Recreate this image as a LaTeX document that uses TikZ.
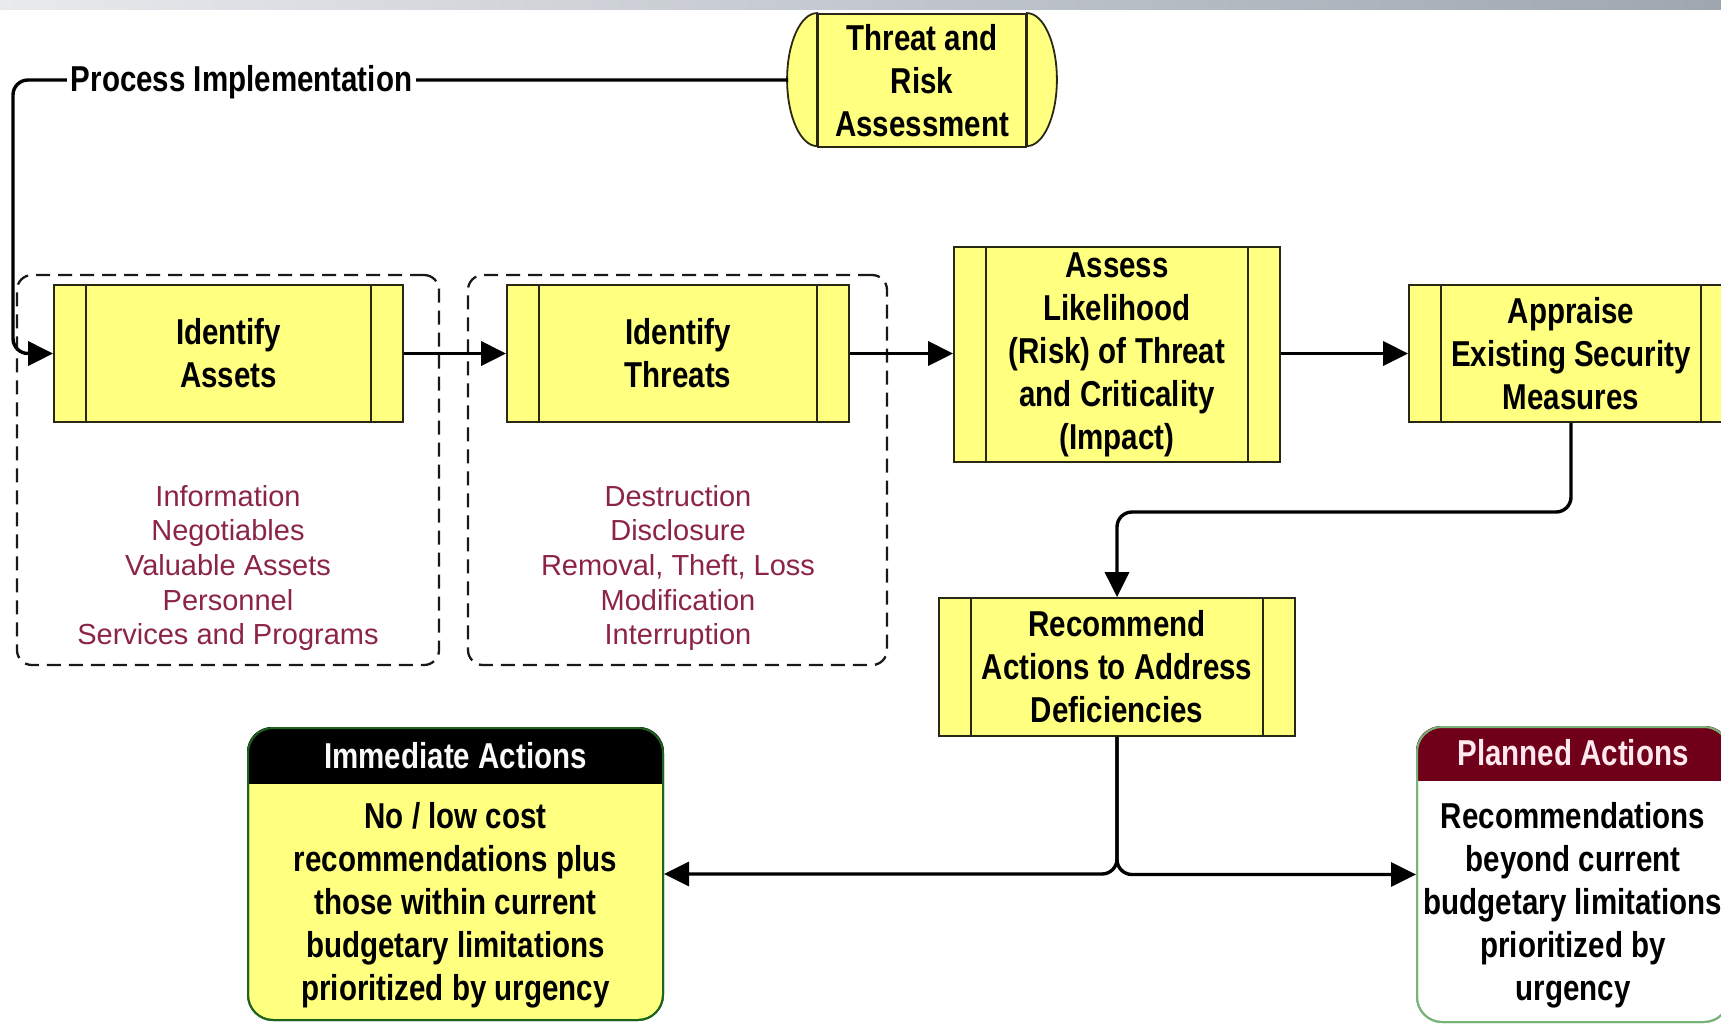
\documentclass[tikz,border=0pt]{standalone}
\usepackage{fontspec}
\setmainfont{Liberation Sans}
\newfontfamily\nbfont[FakeStretch=0.82]{Liberation Sans}
\usetikzlibrary{arrows.meta}
\definecolor{yel}{RGB}{255,255,128}
\definecolor{redtxt}{RGB}{140,36,72}
\definecolor{plred}{RGB}{112,0,26}
\definecolor{plgreen}{RGB}{120,180,120}
\definecolor{imgreen}{RGB}{30,100,30}
\definecolor{bandr}{RGB}{158,166,176}
\definecolor{bandl}{RGB}{232,234,237}
\definecolor{edge}{RGB}{40,40,20}
\newcommand\nbbig{\nbfont\bfseries\fontsize{36pt}{43pt}\selectfont}
\newcommand\redsmall{\fontsize{29pt}{34.7pt}\selectfont}
\begin{document}
\begin{tikzpicture}[x=1pt,y=-1pt,
  conn/.style={line width=3.4pt, black, -{Triangle[length=25pt,width=24pt]}},
  procbox/.style={draw=edge, line width=1.8pt, fill=yel, inner sep=0pt, align=center, font=\nbbig},
  stripline/.style={draw=edge, line width=1.8pt},
  dashbox/.style={draw=black!90, line width=2.3pt, dash pattern=on 14pt off 8pt, rounded corners=15pt, inner sep=0pt},
  redlist/.style={text=redtxt, align=center, font=\redsmall, inner sep=0pt},
  bigtext/.style={align=center, font=\nbbig, inner sep=0pt},
  actbox/.style={line width=2pt, rounded corners=25pt, inner sep=0pt}
]
\useasboundingbox (0,0) rectangle (1721,1023);
\fill[white] (0,0) rectangle (1721,1023);
\shade[left color=bandl, right color=bandr] (0,0) rectangle (1721,9);

% dashed groups
\node[dashbox, minimum width=422pt, minimum height=390pt] (g1) at (228,470) {};
\node[dashbox, minimum width=419pt, minimum height=390pt] (g2) at (677.5,470) {};

% threat and risk assessment
\node[procbox, minimum width=208pt, minimum height=133pt] (tra) at (922,80.5) {Threat and\\Risk\\Assessment};
\filldraw[stripline, fill=yel] (tra.north west) arc[start angle=90, end angle=270, x radius=30pt, y radius=66.5pt] -- cycle;
\filldraw[stripline, fill=yel] (tra.north east) arc[start angle=90, end angle=-90, x radius=30pt, y radius=66.5pt] -- cycle;
\coordinate (trl) at (788,80);
\coordinate (pc) at (13,80);

% process boxes
\node[procbox, minimum width=349pt, minimum height=137pt] (ia) at (228.5,353.5) {Identify\\Assets};
\node[procbox, minimum width=342pt, minimum height=137pt] (it) at (678,353.5) {Identify\\Threats};
\node[procbox, minimum width=326pt, minimum height=215pt] (as) at (1117,354.5) {Assess\\Likelihood\\(Risk) of Threat\\and Criticality\\(Impact)};
\node[procbox, minimum width=324pt, minimum height=137pt] (ap) at (1571,353.5) {Appraise\\Existing Security\\Measures};
\node[procbox, minimum width=356pt, minimum height=138pt] (rc) at (1117,667) {Recommend\\Actions to Address\\Deficiencies};
\foreach \n in {ia,it,as,ap,rc}{
  \draw[stripline] ([xshift=33pt]\n.north west) -- ([xshift=33pt]\n.south west);
  \draw[stripline] ([xshift=-33pt]\n.north east) -- ([xshift=-33pt]\n.south east);
}

% red lists
\node[redlist] (la) at (228,568) {Information\\Negotiables\\Valuable Assets\\Personnel\\Services and Programs};
\node[redlist] (lt) at (678,568) {Destruction\\Disclosure\\Removal, Theft, Loss\\Modification\\Interruption};

% action boxes
\node[actbox, draw=imgreen, fill=yel, minimum width=415pt, minimum height=292pt] (im) at (455.5,874) {};
\begin{scope}
  \clip[rounded corners=25pt] (im.north west) rectangle (im.south east);
  \fill[black] (im.north west) rectangle ([yshift=-57pt]im.north east);
\end{scope}
\draw[imgreen, line width=2pt, rounded corners=25pt] ([shift={(1pt,-1pt)}]im.north west) rectangle ([shift={(-1pt,1pt)}]im.south east);
\node[bigtext, text={rgb,255:red,250;green,250;blue,250}] (imh) at (455.5,756) {Immediate Actions};
\node[bigtext] (imb) at (455.5,905) {No / low cost\\recommendations plus\\those within current\\budgetary limitations\\prioritized by urgency};

\node[actbox, draw=plgreen, fill=white, minimum width=312pt, minimum height=295pt] (pl) at (1573,874.5) {};
\begin{scope}
  \clip[rounded corners=25pt] (pl.north west) rectangle (pl.south east);
  \fill[plred] (pl.north west) rectangle ([yshift=-55pt]pl.north east);
\end{scope}
\draw[plgreen, line width=2pt, rounded corners=25pt] ([shift={(1pt,-1pt)}]pl.north west) rectangle ([shift={(-1pt,1pt)}]pl.south east);
\node[bigtext, text={rgb,255:red,255;green,232;blue,238}] (plh) at (1573,753) {Planned Actions};
\node[bigtext] (plb) at (1573,905) {Recommendations\\beyond current\\budgetary limitations\\prioritized by\\urgency};

% connectors
\draw[conn, rounded corners=15pt] (trl) -- (pc) |- (ia.west);
\node[bigtext, fill=white, inner sep=4pt] (pi) at (241.5,82) {Process Implementation};
\draw[conn] (ia.east) -- (it.west);
\draw[conn] (it.east) -- (it.east -| as.west);
\draw[conn] (ap.west -| as.east) -- (ap.west);
\coordinate (bend) at (1340,512);
\draw[conn, rounded corners=15pt] (ap.south) |- (bend) -| (rc.north);
\draw[conn, rounded corners=15pt] (rc.south) |- (im.east);
\draw[conn, rounded corners=15pt] (rc.south) |- (pl.west);
\end{tikzpicture}
\end{document}
